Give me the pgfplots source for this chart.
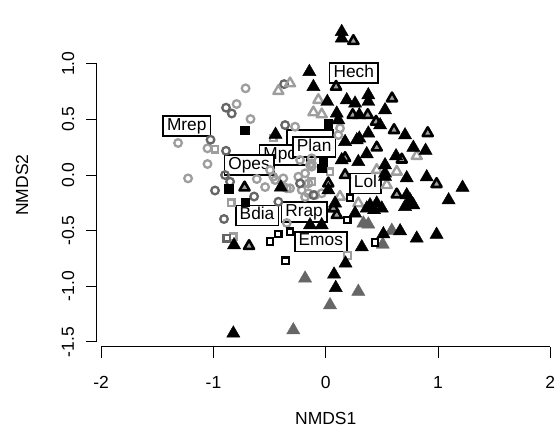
\documentclass[border=0pt]{standalone}
\usepackage{pgfplots}
\pgfplotsset{compat=1.18}
\usepackage{fontspec}
\setmainfont{Liberation Sans}

\definecolor{ltgrey}{HTML}{9E9E9E}
\definecolor{dkgrey}{HTML}{666666}

\tikzset{lab/.style={draw=black, line width=1.6pt, fill=white, inner xsep=4pt, inner ysep=2.2pt,
  font=\fontsize{17.3}{19}\selectfont, text height=12pt, text depth=3.5pt},
  tk/.style={font=\fontsize{17.5}{20}\selectfont}}

\begin{document}
\begin{tikzpicture}
\begin{axis}[
  x=112.3pt, y=111.3pt,
  xmin=-2.037, xmax=2.05, ymin=-1.545, ymax=1.4,
  hide axis, clip=false,
  only marks,
]
% light grey open circles
\addplot[mark=o, mark size=3.8pt, mark options={draw=ltgrey, line width=2.3pt}] coordinates {
(-0.714,0.779) (-0.794,0.638) (-0.670,0.503) (-1.315,0.288) (-1.053,0.240) (-1.053,0.099)
(-1.226,-0.030) (-0.614,-0.036) (-0.451,-0.045) (-0.378,-0.030) (-0.347,-0.119)
(-0.155,-0.075) (-0.036,-0.164) (-0.347,-0.431) (-0.273,0.434)
(-0.229,0.135) (-0.140,0.090) (-0.125,0.105) (0.127,0.420) (0.112,0.359) (-0.540,-0.108)
(-0.184,-0.198) (-0.496,0.045) (-0.467,-0.015) (-0.378,-0.105) (-0.318,-0.119)
(-0.214,-0.135) (-0.155,-0.164) (-0.095,-0.180) (-0.125,0.075) (-0.184,0.015) (-0.244,-0.015)
(-0.125,0.150)
};
% dark grey open circles
\addplot[mark=o, mark size=3.8pt, mark options={draw=dkgrey, line width=2.3pt}] coordinates {
(-0.371,0.817) (-0.888,0.605) (-0.837,0.553) (-1.026,0.317) (-0.888,0.218) (-0.897,0)
(-0.986,-0.139) (-0.638,-0.193) (-0.906,-0.395) (-0.110,-0.180) (-0.362,0.449)
(-0.852,-0.060) (-0.422,-0.240) (-0.229,-0.075)
};
% light grey open squares
\addplot[mark=square, mark size=3.2pt, mark options={draw=ltgrey, line width=2.2pt}] coordinates {
(-0.986,0.231) (-0.841,-0.249) (-0.823,-0.554) (-0.467,0.332) (0.038,0.030) (0.194,-0.723)
(-0.125,-0.060)
};
% dark grey open square
\addplot[mark=square, mark size=3.2pt, mark options={draw=dkgrey, line width=2.2pt}] coordinates {
(-0.882,-0.569)
};
% light grey open triangles
\addplot[mark=triangle, mark size=5.8pt, mark options={draw=ltgrey, line width=2.4pt, line join=round}] coordinates {
(-0.422,0.755) (-0.318,0.824) (-0.066,0.674) (-0.110,0.563) (-0.036,0.545) (0.632,0.030)
(0.543,-0.090) (0.127,-0.195) (0.290,-0.254) (0.454,0.045) (0.810,0.171)
};
% dark grey filled triangles
\addplot[mark=triangle*, mark size=7.6pt, mark options={draw=dkgrey, fill=dkgrey, line width=0.4pt}] coordinates {
(-0.184,-0.928) (-0.289,-1.393) (0.038,-1.168) (0.290,-1.047) (0.335,-0.434) (0.379,-0.443)
(0.508,-0.624) (0.588,-0.499)
};
% black open triangles (grey inside)
\addplot[mark=triangle*, mark size=5.8pt, mark options={draw=black, fill=ltgrey, line width=2.6pt, line join=round}] coordinates {
(0.246,1.204) (0.092,0.793) (0.240,0.539) (0.374,0.539) (0.448,0.479) (0.590,0.689)
(0.454,0.247) (0.172,0.153) (0.608,0.404) (0.908,0.377) (0.677,0.139) (0.987,-0.081)
(0.632,-0.175) (0.023,-0.075) (0.098,-0.359) (0.068,-0.299) (0.172,0) (-0.723,-0.112)
(-0.683,-0.638)
};
% black filled triangles
\addplot[mark=triangle*, mark size=7.6pt, mark options={draw=black, fill=black, line width=0.4pt}] coordinates {
(0.142,1.287) (0.142,1.228) (-0.146,0.928) (-0.110,0.793) (0.014,0.659) (0.187,0.674)
(0.261,0.644) (0.379,0.719) (0.379,0.659) (0.098,0.554) (0.299,0.539) (0.112,0.494)
(0.484,0.449) (0.379,0.375) (0.276,0.314) (0.299,0.330) (0.172,0.299) (0.365,0.189)
(0.290,0.119) (0.528,0.090) (0.528,0.584) (0.706,0.359) (0.780,0.247) (0.889,0.220)
(0.626,0.171) (0.721,-0.027) (0.899,-0.018) (1.218,-0.112) (1.094,-0.225) (0.721,-0.180)
(0.736,-0.254) (0.706,-0.285) (0.780,-0.270) (0.751,-0.225) (0.662,-0.503) (0.810,-0.569)
(0.987,-0.535) (0.513,-0.530) (0.321,-0.647) (0.176,-0.793) (0.074,-0.892) (0.089,-1.013)
(0.394,-0.270) (0.454,-0.254) (0.499,-0.299) (0.365,-0.299) (0.430,-0.314) (-0.823,-1.422)
(-0.817,-0.629) (-0.447,0.364) (0.528,0.015) (0.528,-0.015) (-0.140,-0.449) (-0.036,-0.449)
(0.261,-0.344) (-0.400,-0.110) (0.023,-0.135) (0.142,0.135) (0.083,-0.254)
};
% black filled squares
\addplot[mark=square*, mark size=4.3pt, mark options={draw=black, fill=black, line width=0pt}] coordinates {
(-0.719,0.400) (-0.861,-0.126) (-0.714,-0.247) (0.023,0.458) (-0.021,0.119) (-0.036,0.060)
};
% black open squares
\addplot[mark=square, mark size=3.2pt, mark options={draw=black, line width=2.2pt}] coordinates {
(-0.496,-0.597) (-0.422,-0.530) (-0.318,-0.509) (-0.358,-0.770) (0.192,-0.404) (0.439,-0.606)
(0.216,-0.204)
};

% labels
\node[lab, minimum width=46pt] at (axis cs:-0.142,0.314) {\phantom{Mlup}};
\node[lab] at (axis cs:-0.380,0.180) {Mpor};
\node[lab] at (axis cs:-0.683,0.090) {Opes};
\node[lab] at (axis cs:-0.104,0.254) {Plan};
\node[lab] at (axis cs:-1.238,0.442) {Mrep};
\node[lab] at (axis cs:0.250,0.916) {Hech};
\node[lab] at (axis cs:0.354,-0.075) {Lol};
\node[lab] at (axis cs:-0.612,-0.364) {Bdia};
\node[lab] at (axis cs:-0.193,-0.332) {Rrap};
\node[lab] at (axis cs:-0.044,-0.599) {Emos};

% R-style axes
\draw[line width=1pt] (axis cs:-2,-1.545) -- (axis cs:2,-1.545);
\pgfplotsinvokeforeach{-2,-1,0,1,2}{
  \draw[line width=1pt] (axis cs:#1,-1.545) -- ++(0pt,-11pt);
  \node[tk] at ([yshift=-35pt]axis cs:#1,-1.545) {#1};
}
\draw[line width=1pt] (axis cs:-2.037,-1.5) -- (axis cs:-2.037,1.0);
\pgfplotsinvokeforeach{-1.5,-1,-0.5,0,0.5,1}{
  \draw[line width=1pt] (axis cs:-2.037,#1) -- ++(-11pt,0pt);
}
\node[tk, rotate=90] at ([xshift=-29pt]axis cs:-2.037,-1.5) {-1.5};
\node[tk, rotate=90] at ([xshift=-29pt]axis cs:-2.037,-1.0) {-1.0};
\node[tk, rotate=90] at ([xshift=-29pt]axis cs:-2.037,-0.5) {-0.5};
\node[tk, rotate=90] at ([xshift=-29pt]axis cs:-2.037,0) {0.0};
\node[tk, rotate=90] at ([xshift=-29pt]axis cs:-2.037,0.5) {0.5};
\node[tk, rotate=90] at ([xshift=-29pt]axis cs:-2.037,1.0) {1.0};
\node[tk] at ([yshift=-71pt]axis cs:0,-1.545) {NMDS1};
\node[tk, rotate=90] at ([xshift=-75pt]axis cs:-2.037,-0.09) {NMDS2};
\end{axis}
\pgfresetboundingbox
\path (-97pt,-92pt) rectangle (460pt,347pt);
\end{tikzpicture}
\end{document}
